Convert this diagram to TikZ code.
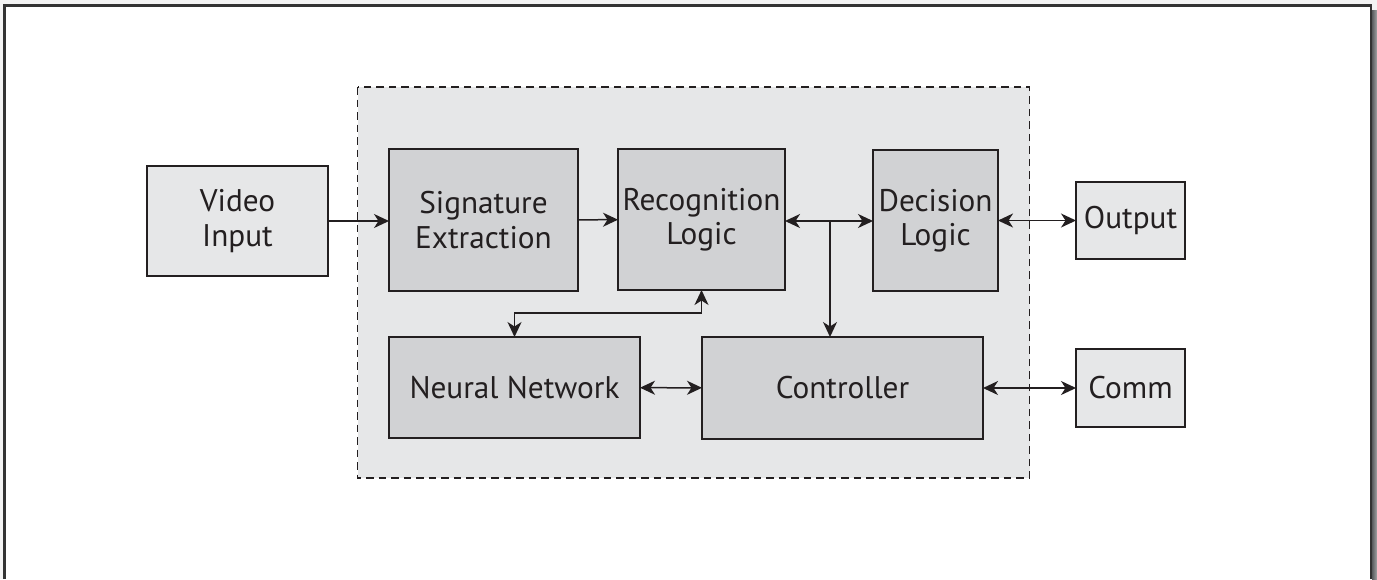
\documentclass[tikz,border=0pt]{standalone}
\usepackage{fontspec}
\setmainfont{PT Sans}
\usepackage{tikz}
\usetikzlibrary{arrows.meta}
\usetikzlibrary{calc}
\definecolor{textdark}{RGB}{35,31,32}
\definecolor{boxlight}{RGB}{230,231,232}
\definecolor{boxdark}{RGB}{209,210,212}
\definecolor{framegray}{RGB}{51,51,51}
\definecolor{shadowgray}{RGB}{90,92,94}
\definecolor{pagegray}{RGB}{243,243,243}

\begin{document}
\begin{tikzpicture}[x=0.1mm, y=-0.1mm, textdark,
    block/.style={draw=textdark, line width=0.22mm, inner sep=0pt, outer sep=0pt,
        align=center, text=textdark, font=\fontsize{8.9}{9.7}\selectfont},
    inblock/.style={block, fill=boxdark},
    outblock/.style={block, fill=boxlight},
    link/.style={line width=0.15mm, -{Stealth[length=1.5mm, width=1.4mm, inset=0.45mm]}},
    dlink/.style={line width=0.15mm, {Stealth[length=1.5mm, width=1.4mm, inset=0.45mm]}-{Stealth[length=1.5mm, width=1.4mm, inset=0.45mm]}}]

    \useasboundingbox (0,0) rectangle (1377,579);

    % page and frame
    \fill[pagegray] (0,0) rectangle (1377,579);
    \fill[white] (4.5,5.5) rectangle (1371,579);
    \shade[left color=shadowgray, right color=shadowgray!55] (1372,10) rectangle (1377,579);
    \draw[framegray, line width=0.22mm] (4.5,579) -- (4.5,5.5) -- (1371,5.5) -- (1371,579);

    % system boundary
    \draw[fill=boxlight, line width=0.18mm, dash pattern=on 0.75mm off 0.5mm] (357.5,87) rectangle (1029.5,478);

    \node[outblock, minimum width=18.1mm, minimum height=11mm] (video) at (237.5,221) {Video\\Input};
    \node[inblock, minimum width=18.9mm, minimum height=14.2mm] (sig) at (483.5,220) {Signature\\Extraction};
    \node[inblock, minimum width=16.7mm, minimum height=14.1mm] (recog) at (701.5,219.5) {Recognition\\Logic};
    \node[inblock, minimum width=12.5mm, minimum height=14.1mm] (decis) at (935.5,220.5) {Decision\\Logic};
    \node[outblock, minimum width=10.9mm, minimum height=7.7mm] (output) at (1130.5,220.5) {Output};
    \node[inblock, minimum width=25.1mm, minimum height=10.1mm] (neural) at (514.5,387.5) {Neural Network};
    \node[inblock, minimum width=28.1mm, minimum height=10.2mm] (ctrl) at (842.5,388) {Controller};
    \node[outblock, minimum width=10.9mm, minimum height=7.8mm] (comm) at (1130.5,388) {Comm};

    \coordinate (branch) at (830,221);

    \draw[link] (video.east) -- (video.east -| sig.west);
    \draw[link] (sig) -- (recog);
    \draw[dlink] (recog.east |- branch) -- (decis.west |- branch);
    \draw[link] (branch) -- (branch |- ctrl.north);
    \draw[dlink] (decis.east |- output) -- (output.west);
    \draw[dlink] (recog.south) -- ++(0,23) -| (neural.north);
    \draw[dlink] (neural) -- (ctrl);
    \draw[dlink] (ctrl.east |- comm) -- (comm.west);

\end{tikzpicture}
\end{document}
